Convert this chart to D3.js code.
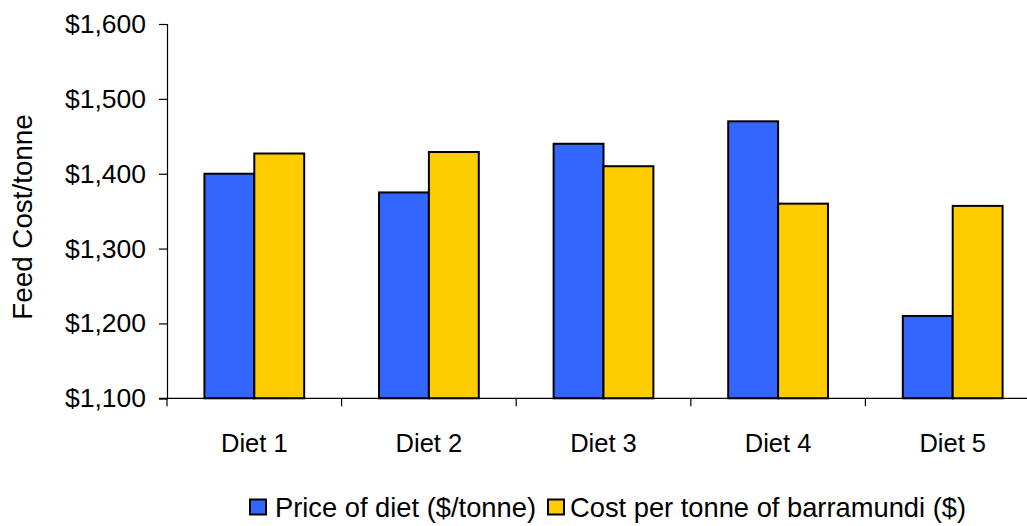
<!DOCTYPE html>
<html>
<head>
<meta charset="utf-8">
<script src="https://cdn.jsdelivr.net/npm/d3@7"></script>
<style>
  html, body { margin: 0; padding: 0; background: #fff; }
  svg { display: block; font-family: "Liberation Sans", Arial, sans-serif; }
</style>
</head>
<body>
<svg id="chart" width="1027" height="526"></svg>
<script>
// Feed cost per diet
const categories = ["Diet 1", "Diet 2", "Diet 3", "Diet 4", "Diet 5"];
const priceOfDiet = [1400, 1375, 1440, 1470, 1210];
const costPerTonneBarra = [1427, 1429, 1410, 1360, 1357];
const seriesNames = ["Price of diet ($/tonne)", "Cost per tonne of barramundi ($)"];
const seriesColors = ["#3366FF", "#FFCC00"];
const yTicks = [1100, 1200, 1300, 1400, 1500, 1600];

const series = [priceOfDiet, costPerTonneBarra];

const svg = d3.select("#chart");
const plotLeft = 167, plotTop = 24, plotBottom = 398.3, band = 174.6;

const x = d3.scaleBand()
  .domain(categories)
  .range([plotLeft, plotLeft + band * categories.length])
  .paddingInner(0).paddingOuter(0);

const y = d3.scaleLinear().domain([1100, 1600]).range([plotBottom, plotTop]);

// bar width: two bars per group, gap of 1.5 bar widths
const barW = band / 3.5;

const fmt = d3.format("$,");

// y axis
const yAxis = svg.append("g")
  .attr("transform", `translate(${plotLeft},0)`)
  .call(d3.axisLeft(y).tickValues(yTicks).tickSize(8).tickPadding(13).tickFormat(d => fmt(d)));
yAxis.select(".domain").attr("stroke", "#000").attr("stroke-width", 1.2);
yAxis.selectAll(".tick line").attr("stroke", "#000").attr("stroke-width", 1.2);
yAxis.selectAll(".tick text")
  .attr("fill", "#000")
  .style("font-size", "26.5px")
  .attr("font-family", "Liberation Sans, Arial, sans-serif");

// bars
categories.forEach((c, i) => {
  series.forEach((s, j) => {
    const x0 = x(c) + band / 2 - barW + j * barW;
    svg.append("rect")
      .attr("x", x0)
      .attr("y", y(s[i]))
      .attr("width", barW)
      .attr("height", y(1100) - y(s[i]))
      .attr("fill", seriesColors[j])
      .attr("stroke", "#000")
      .attr("stroke-width", 2);
  });
});

// x axis line and category separators
const xAxis = svg.append("g")
  .attr("transform", `translate(0,${plotBottom})`);
xAxis.append("line")
  .attr("x1", plotLeft - 8).attr("x2", x.range()[1])
  .attr("stroke", "#000").attr("stroke-width", 1.2);
const bounds = categories.map(c => x(c)).concat([x.range()[1]]);
xAxis.selectAll("line.sep").data(bounds).enter().append("line")
  .attr("class", "sep")
  .attr("x1", d => d).attr("x2", d => d)
  .attr("y1", 0).attr("y2", 8)
  .attr("stroke", "#000").attr("stroke-width", 1.2);
xAxis.selectAll("text").data(categories).enter().append("text")
  .attr("x", d => x(d) + band / 2)
  .attr("y", 54)
  .attr("text-anchor", "middle")
  .style("font-size", "25.5px")
  .attr("fill", "#000")
  .text(d => d);

// y axis title
svg.append("text")
  .attr("transform", `translate(32,217) rotate(-90)`)
  .attr("text-anchor", "middle")
  .style("font-size", "27.8px")
  .attr("fill", "#000")
  .text("Feed Cost/tonne");

// legend
const legendItems = [
  { name: seriesNames[0], color: seriesColors[0], sx: 250, tx: 275 },
  { name: seriesNames[1], color: seriesColors[1], sx: 548, tx: 570 }
];
const legend = svg.append("g");
legendItems.forEach(d => {
  legend.append("rect")
    .attr("x", d.sx).attr("y", 499.5)
    .attr("width", 16).attr("height", 15)
    .attr("fill", d.color).attr("stroke", "#000").attr("stroke-width", 2);
  legend.append("text")
    .attr("x", d.tx).attr("y", 517)
    .style("font-size", "27.3px")
    .attr("fill", "#000")
    .text(d.name);
});
</script>
</body>
</html>
